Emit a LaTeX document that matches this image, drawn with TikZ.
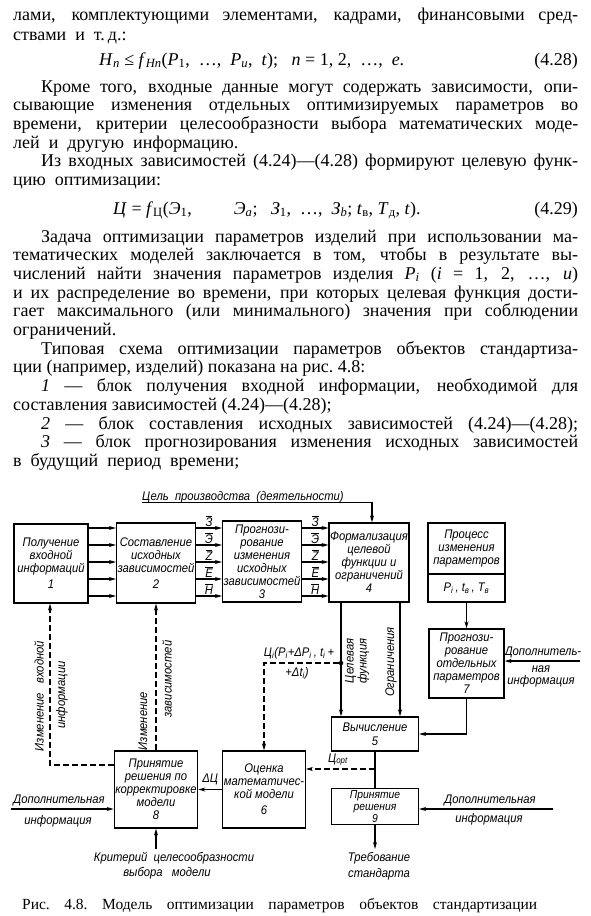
\documentclass[tikz,border=0pt]{standalone}
\usepackage{fontspec}
\setmainfont{Liberation Serif}
\newfontfamily\dfont{Liberation Sans}[FakeStretch=0.9]
\usetikzlibrary{arrows.meta}

% one printed line of the page: justified to a given width, or left as it is
\newcommand\jline[5]{\node (#1) [txt, anchor=base west] at (#2,#3) {\makebox[#4pt][s]{#5}};}
\newcommand\lline[4]{\node (#1) [txt, anchor=base west] at (#2,#3) {#4};}
\newcommand\ov[1]{$\overline{\mbox{#1}}$}
\newcommand\sub[1]{\textsubscript{#1}}

\begin{document}
\begin{tikzpicture}[x=1pt,y=-1pt,
  txt/.style={inner sep=0pt, font=\fontsize{18}{18.7}\selectfont},
  blk/.style={draw, line width=1.3pt, inner sep=1pt, align=center,
    font=\dfont\itshape\fontsize{12.5}{13}\selectfont},
  lbl/.style={inner sep=0pt, align=center, font=\dfont\itshape\fontsize{12.5}{13}\selectfont},
  arr/.style={-{Stealth[length=7pt,width=4pt]}, line width=1.1pt},
  darr/.style={arr, dash pattern=on 6pt off 3pt}]
\fill[white] (0,0) rectangle (590,916);
\useasboundingbox (0,0) rectangle (590,916);

%% text of the page
\jline{l1}{13}{20}{565}{лами, комплектующими элементами, кадрами, финансовыми сред-}
\lline{l2}{13}{40}{ствами\ \ и\ \ т.\,д.:}
\lline{f1}{99}{65}{\textit{H}\sub{\textit{n}} ≤ \textit{f}\sub{\textit{Hn}}(\textit{P}\sub{1},\ \ …,\ \ \textit{P}\sub{\textit{u}},\ \ \textit{t});\ \ \ \textit{n} = 1,\ 2,\ \ …,\ \ \textit{e}.}
\node (n1) [txt, anchor=base east] at (578,65) {(4.28)};
\jline{l3}{41}{92}{537}{Кроме того, входные данные могут содержать зависимости, опи-}
\jline{l4}{13}{110.7}{565}{сывающие изменения отдельных оптимизируемых параметров во}
\jline{l5}{13}{129.4}{565}{времени, критерии целесообразности выбора математических моде-}
\lline{l6}{13}{148.1}{лей\ \ и\ \ другую\ \ информацию.}
\jline{l7}{41}{166.8}{537}{Из входных зависимостей (4.24)—(4.28) формируют целевую функ-}
\lline{l8}{13}{185.5}{цию\ \ оптимизации:}
\lline{f2}{113}{214}{\textit{Ц} = \textit{f}\sub{Ц}(\textit{Э}\sub{1},\hspace{42pt}\textit{Э}\sub{\textit{a}};\ \ \ \textit{З}\sub{1},\ \ …,\ \ \textit{З}\sub{\textit{b}};\ \textit{t}\sub{в},\ \textit{T}\sub{д},\ \textit{t}).}
\node (n2) [txt, anchor=base east] at (578,214) {(4.29)};
\jline{l9}{41}{242}{537}{Задача оптимизации параметров изделий при использовании ма-}
\jline{l10}{13}{260.7}{565}{тематических моделей заключается в том, чтобы в результате вы-}
\jline{l11}{13}{279.4}{565}{числений найти значения параметров изделия \textit{P}\sub{\textit{i}} (\textit{i} = 1, 2, …, \textit{u})}
\jline{l12}{13}{298.1}{565}{и их распределение во времени, при которых целевая функция дости-}
\jline{l13}{13}{316.8}{565}{гает максимального (или минимального) значения при соблюдении}
\lline{l14}{13}{335.5}{ограничений.}
\jline{l15}{41}{354.2}{537}{Типовая схема оптимизации параметров объектов стандартиза-}
\lline{l16}{13}{372.9}{ции (например,\ изделий)\ показана\ на\ рис.\ 4.8:}
\jline{l17}{41}{391.6}{537}{\textit{1} — блок получения входной информации, необходимой для}
\lline{l18}{13}{410.3}{составления\ зависимостей\ (4.24)—(4.28);}
\jline{l19}{41}{429}{537}{\textit{2} — блок составления исходных зависимостей (4.24)—(4.28);}
\jline{l20}{41}{447.7}{537}{\textit{3} — блок прогнозирования изменения исходных зависимостей}
\lline{l21}{13}{466.4}{в\ \ будущий\ \ период\ \ времени;}

%% blocks
\node[blk, minimum width=74pt, minimum height=79pt] (b1) at (51,563.5) {Получение\\входной\\информаций\\[3pt]1};
\node[blk, minimum width=78pt, minimum height=80pt] (b2) at (156,563) {Составление\\исходных\\зависимостей\\[3pt]2};
\node[blk, minimum width=76pt, minimum height=81pt] (b3) at (262,561.5) {Прогнози-\\рование\\изменения\\исходных\\зависимостей\\3};
\node[blk, minimum width=78pt, minimum height=79pt] (b4) at (369,562.5) {Формализация\\целевой\\функции и\\ограничений\\4};
\node[blk, minimum width=77pt, minimum height=79pt] (bp) at (466.5,562.5) {};
\draw[line width=1.3pt] (bp.west |- 0,574) -- (bp.east |- 0,574);
\node[lbl] (bpt) at (466.5,548) {Процесс\\изменения\\параметров};
\node[lbl] (bpv) at (466.5,588.5) {P\sub{i}\,, t\sub{в}\,, T\sub{в}};
\node[blk, minimum width=75pt, minimum height=69pt] (b7) at (466.5,663.5) {Прогнози-\\рование\\отдельных\\параметров\\7};
\node[blk, minimum width=87pt, minimum height=34pt, font=\dfont\itshape\fontsize{12.5}{14}\selectfont] (b5) at (375,734) {Вычисление\\5};
\node[blk, minimum width=78pt, minimum height=77pt] (b6) at (264,789.5) {Оценка\\математичес-\\кой модели\\[3pt]6};
\node[blk, minimum width=78pt, minimum height=77pt] (b8) at (156,789.5) {Принятие\\решения по\\корректировке\\модели\\8};
\node[blk, minimum width=87pt, minimum height=36pt, inner sep=0.5pt, font=\dfont\itshape\fontsize{11.5}{11.6}\selectfont] (b9) at (375,806.5) {Принятие\\решения\\9};

%% goal of production
\node[lbl, anchor=base west] (goal) at (142,500) {Цель\ \ производства\ \ (деятельности)};
\draw[arr] (goal.south west) -| ([xshift=3pt]b4.north);

%% parallel flows 1-2-3-4
\foreach \y in {528,545,562,579,596}
  \draw[arr] (b1.east |- 0,\y) -- (b2.west |- 0,\y);
\foreach \y/\l in {528/\ov{З},545/\ov{Э},562/\ov{Z},579/\ov{E},596/\ov{H}} {
  \draw[arr] (b2.east |- 0,\y) -- (b3.west |- 0,\y) node[lbl, midway, above=1pt] {\l};
  \draw[arr] (b3.east |- 0,\y) -- (b4.west |- 0,\y) node[lbl, midway, above=1pt] {\l};
}

%% 4 -> 5
\draw[arr] (b4.south -| 341,0) -- (b5.north -| 341,0);
\draw[arr] (b4.south -| 400,0) -- (b5.north -| 400,0);
\node[lbl, rotate=90] (tf) at (357,661) {Целевая\\функция};
\node[lbl, rotate=90] (tog) at (391,662) {Ограничения};
\node[circle, fill, inner sep=1.6pt] (dot) at (341,663) {};
\draw[darr] (dot) -| (b6.north);
\node[lbl, anchor=south] (ci) at (299,659) {Ц\sub{i}(P\sub{i}+ΔP\sub{i}\,, t\sub{i}\,+};
\node[lbl] (cdt) at (297,673) {+Δt\sub{i})};

%% process of change -> 7 -> 5
\draw[arr] (bp.south) -- (b7.north);
\draw[arr] (b7.south) |- (b5.east);
\coordinate (e7) at (580,661);
\draw[arr] (e7) -- (b7.east |- e7);
\node[lbl] (e7a) at (543,652) {Дополнитель-};
\node[lbl, font=\dfont\itshape\fontsize{12.5}{12}\selectfont] (e7b) at (541,676) {ная\\информация};

%% 5 -> 9, 5 -> 6 -> 8
\draw[line width=1.1pt] (b5.south) -- (b9.north);
\draw[darr] (b5.south |- 0,769) -- (b6.east |- 0,769);
\node[lbl, anchor=south] (copt) at (338,766) {Ц\sub{opt}};
\draw[arr] (b6.west) -- (b8.east) node[lbl, midway, above=4pt] (dz) {ΔЦ};

%% corrections back to 1 and 2
\coordinate (d1) at (50,765);
\draw[darr] (b8.west |- d1) -| (b1.south -| d1);
\draw[darr] (b8.north) -- (b2.south);
\node[lbl, rotate=90] (ch1) at (39,696) {Изменение\ \ \ входной};
\node[lbl, rotate=90] (ch2) at (62,695) {информации};
\node[lbl, rotate=90] (ch3) at (143,721) {Изменение};
\node[lbl, rotate=90] (ch4) at (167,679) {зависимостей};

%% inputs and outputs at the bottom
\coordinate (e8) at (11,809);
\draw[arr] (e8) -- (b8.west |- e8);
\node[lbl] (e8a) at (59,800) {Дополнительная};
\node[lbl] (e8b) at (58,821) {информация};
\coordinate (e9) at (553,809);
\draw[arr] (e9) -- (b9.east |- e9);
\node[lbl] (e9a) at (490,800) {Дополнительная};
\node[lbl] (e9b) at (489,819) {информация};
\coordinate (kr) at (156,849);
\draw[arr] (kr) -- (b8.south);
\node[lbl] (kt1) at (174,858) {Критерий\ \ целесообразности};
\node[lbl] (kt2) at (167,873) {выбора\ \ \ модели};
\coordinate (tq) at (375,849);
\draw[arr] (b9.south) -- (tq);
\node[lbl] (tr1) at (379,858) {Требование};
\node[lbl] (tr2) at (379,874) {стандарта};

%% caption
\node (cap) [txt, anchor=base west, font=\fontsize{15.5}{16}\selectfont] at (22,909)
  {\makebox[515pt][s]{Рис.\ 4.8.\ Модель оптимизации параметров объектов стандартизации}};
\end{tikzpicture}
\end{document}
